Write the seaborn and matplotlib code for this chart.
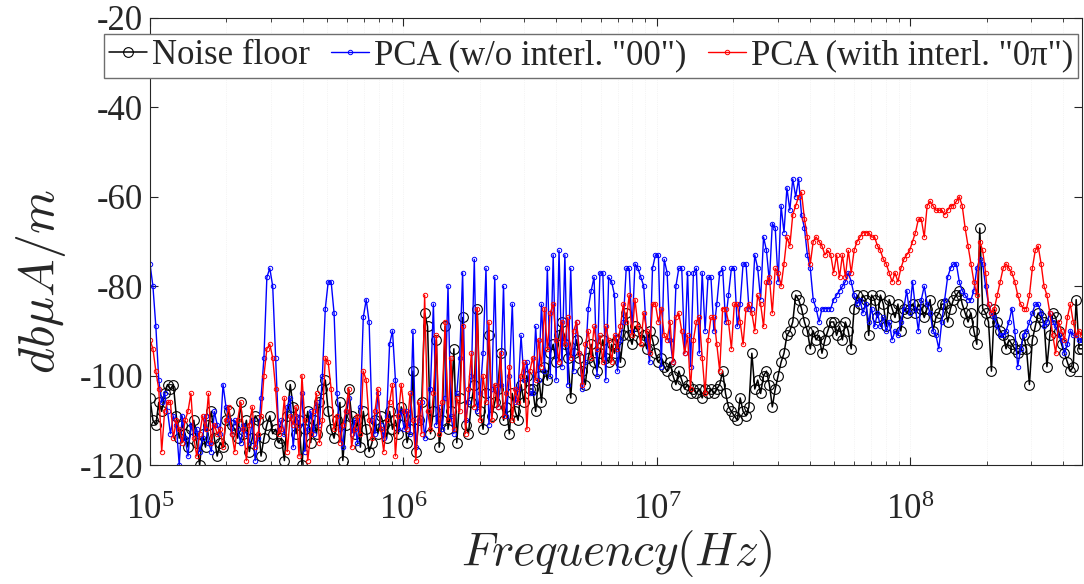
import numpy as np
import pandas as pd
import matplotlib
matplotlib.use("Agg")
import matplotlib.pyplot as plt
import seaborn as sns
from matplotlib.ticker import LogLocator, LogFormatterSciNotation, NullFormatter

# Receiver sweep: logarithmic frequency steps between start and stop
SWEEP_START_HZ = 1e5
SWEEP_STOP_HZ = 4.75e8

# Measured field levels in dBuA/m, one value per sweep step
noise_floor_db = [
    -105, -110, -111, -106, -108, -104, -102, -103, -102, -109,
    -114, -111, -113, -116, -112, -110, -115, -120, -113, -116,
    -111, -108, -114, -118, -115, -116, -110, -108, -111, -112,
    -114, -106, -113, -110, -117, -114, -109, -110, -118, -114,
    -111, -109, -113, -112, -115,
    -114, -119, -109, -102, -107, -113, -110, -120, -112, -108,
    -115, -110, -113, -106, -103, -101, -108, -112, -114, -110,
    -106, -119, -111, -103, -109, -113, -110, -116, -108, -112,
    -117, -115, -110, -113, -109, -111, -114, -108, -112, -110,
    -113, -107,
    -109, -115, -112, -99, -117, -110, -106, -86, -89, -113,
    -108, -92, -116, -110, -89, -112, -108, -94, -115, -105,
    -87, -111, -113, -106, -102, -85, -108, -112, -104, -91,
    -109, -106, -103, -95, -110, -107, -113, -104, -108, -110,
    -102, -106, -100, -103,
    -103, -108, -100, -106, -98, -101, -95, -93, -97, -91,
    -88, -93, -96, -105, -95, -92, -96, -99, -102, -96,
    -93, -97, -99, -95, -92, -96, -97, -93, -95, -92,
    -97, -91, -86, -91, -93, -89, -90, -92, -91, -94,
    -90, -92, -95, -97, -96, -98, -99, -97, -100, -102,
    -99, -101, -103, -102, -104, -103, -104, -103, -105, -103,
    -104, -103, -104, -103, -102, -99, -104, -107, -108, -109,
    -110, -105, -108, -109, -107, -95, -103, -101, -104, -100,
    -99, -102, -107, -103, -100, -97, -95, -91, -90, -88,
    -82, -83, -85, -88, -90, -94, -90, -92, -91, -95,
    -92, -90, -88, -88, -91, -89, -92, -88, -90, -94,
    -85, -82, -84, -82, -83, -91, -82, -83, -87, -82,
    -84, -89, -83, -85, -87, -84, -90, -85, -86, -85,
    -84, -86, -84, -85, -87, -85, -83, -90, -87, -86,
    -84, -84, -88, -85, -83, -82, -81, -84, -86, -88,
    -86, -90, -93, -67, -85, -86, -88, -99, -85, -88,
    -90, -91, -94, -92, -93, -94, -95, -94, -91, -94,
    -102, -92, -89, -86, -87, -88, -98, -91, -86, -87,
    -90, -93, -95, -97, -99, -98, -83, -94, -94,
]

pca_00_db = [
    -75, -80, -89, -101, -106, -104, -108, -113, -109, -111,
    -120, -109, -114, -118, -111, -113, -112, -117, -114, -109,
    -115, -117, -108, -111, -113, -102, -107, -110, -113, -110,
    -112, -115, -111, -113, -115, -110, -119, -114, -105, -96,
    -78, -76, -80, -96, -112,
    -110, -113, -107, -105, -116, -109, -111, -104, -117, -112,
    -108, -113, -106, -111, -100, -85, -79, -79, -86, -104,
    -112, -116, -108, -105, -113, -110, -115, -107, -87, -83,
    -88, -110, -113, -104, -111, -114, -109, -93, -90, -101,
    -112, -108,
    -112, -108, -113, -90, -116, -110, -106, -114, -108, -103,
    -84, -111, -107, -112, -105, -80, -109, -113, -104, -96,
    -77, -110, -106, -100, -74, -108, -104, -95, -76, -111,
    -103, -78, -107, -102, -80, -109, -100, -84, -106, -103,
    -91, -101, -97, -104,
    -104, -89, -101, -84, -99, -76, -100, -73, -101, -72,
    -98, -73, -102, -76, -99, -88, -95, -103, -97, -85,
    -81, -78, -100, -77, -77, -101, -78, -79, -82, -99,
    -92, -88, -76, -76, -90, -75, -76, -78, -80, -92,
    -97, -76, -73, -73, -98, -74, -77, -92, -97, -80,
    -76, -76, -95, -77, -98, -77, -76, -95, -77, -90,
    -78, -78, -90, -84, -77, -76, -88, -82, -76, -76,
    -89, -84, -75, -75, -85, -85, -73, -76, -83, -69,
    -72, -79, -66, -67, -79, -62, -68, -58, -63, -56,
    -60, -56, -64, -67, -73, -76, -83, -85, -88, -85,
    -85, -85, -85, -83, -82, -81, -80, -79, -77, -79,
    -82, -84, -83, -86, -84, -88, -85, -89, -86, -89,
    -87, -90, -88, -92, -90, -91, -88, -85, -81, -86,
    -79, -85, -90, -83, -80, -84, -86, -90, -91, -94,
    -88, -83, -78, -76, -75, -75, -79, -81, -82, -83,
    -83, -81, -76, -74, -75, -80, -84, -86, -87, -89,
    -91, -91, -90, -88, -85, -90, -98, -94, -91, -90,
    -88, -86, -84, -84, -86, -89, -88, -86, -88, -89,
    -91, -92, -95, -93, -90, -91, -91, -92, -92,
]

pca_0pi_db = [
    -92, -94, -99, -103, -117, -108, -106, -106, -114, -110,
    -112, -115, -110, -108, -104, -114, -118, -113, -109, -112,
    -104, -115, -111, -113, -112, -116, -110, -107, -113, -117,
    -110, -106, -112, -119, -111, -107, -116, -113, -109, -100,
    -94, -93, -96, -103, -113,
    -112, -105, -117, -109, -111, -107, -118, -100, -110, -119,
    -113, -108, -104, -115, -110, -96, -97, -103, -112, -109,
    -115, -111, -108, -103, -116, -112, -109, -113, -99, -101,
    -110, -114, -108, -103, -112, -117, -110, -106, -102, -118,
    -109, -102,
    -108, -112, -104, -110, -119, -106, -113, -82, -108, -112,
    -104, -91, -113, -106, -88, -110, -96, -112, -105, -108,
    -89, -113, -103, -95, -107, -85, -110, -100, -106, -88,
    -110, -102, -107, -95, -109, -104, -98, -110, -103, -106,
    -100, -97, -112, -99,
    -96, -101, -92, -98, -85, -94, -86, -84, -92, -97,
    -88, -93, -87, -96, -90, -88, -95, -102, -93, -90,
    -96, -89, -94, -91, -97, -89, -92, -97, -91, -94,
    -89, -84, -88, -82, -91, -83, -89, -93, -86, -90,
    -95, -84, -84, -88, -85, -91, -92, -88, -97, -87,
    -86, -90, -95, -91, -103, -92, -88, -87, -96, -104,
    -92, -87, -87, -93, -99, -85, -85, -88, -94, -84,
    -84, -88, -93, -85, -84, -86, -90, -82, -84, -89,
    -79, -78, -86, -76, -77, -80, -75, -69, -71, -64,
    -62, -60, -59, -65, -69, -75, -70, -69, -70, -71,
    -73, -72, -73, -77, -73, -78, -73, -78, -72, -77,
    -72, -70, -69, -68, -68, -68, -69, -69, -71, -72,
    -74, -75, -77, -79, -77, -79, -76, -74, -73, -72,
    -70, -68, -65, -65, -69, -62, -61, -62, -63, -63,
    -63, -64, -63, -62, -62, -61, -60, -62, -67, -71,
    -75, -79, -82, -70, -72, -77, -84, -86, -85, -82,
    -79, -76, -75, -76, -77, -79, -82, -84, -85, -85,
    -82, -76, -72, -71, -75, -80, -82, -86, -91, -95,
    -88, -90, -92, -87, -84, -88, -91, -90, -91,
]

series_labels = ["Noise floor", 'PCA (w/o interl. "00")', 'PCA (with interl. "0\u03c0")']
y_ticks = [-120, -100, -80, -60, -40, -20]

sns.set_theme(style="ticks")
plt.rcParams.update({
    "font.family": ["Liberation Serif", "DejaVu Serif"],
    "mathtext.fontset": "cm",
    "axes.unicode_minus": False,
    "axes.edgecolor": "#262626",
    "axes.linewidth": 0.8,
    "xtick.color": "#262626",
    "ytick.color": "#262626",
    "xtick.direction": "in",
    "ytick.direction": "in",
    "xtick.top": True,
    "ytick.right": True,
})

freq_hz = np.geomspace(SWEEP_START_HZ, SWEEP_STOP_HZ, len(noise_floor_db))
df = pd.DataFrame({
    "freq": freq_hz,
    "noise": noise_floor_db,
    "pca00": pca_00_db,
    "pca0pi": pca_0pi_db,
})

W, H = 1084, 584
fig = plt.figure(figsize=(W / 100, H / 100), dpi=100)
ax = fig.add_axes([150 / W, 119 / H, 932 / W, 447 / H])

line_specs = [
    ("noise", series_labels[0], "#000000", 7.0, 0.8, 1.1),
    ("pca00", series_labels[1], "#0000ff", 3.2, 0.7, 1.0),
    ("pca0pi", series_labels[2], "#ff0000", 3.2, 0.7, 1.0),
]
for col, label, color, ms, mew, lw in line_specs:
    sns.lineplot(
        data=df, x="freq", y=col, ax=ax, label=label, color=color,
        estimator=None, sort=False, linewidth=lw,
        marker="o", markersize=ms, markerfacecolor="none",
        markeredgecolor=color, markeredgewidth=mew,
    )

ax.set_xscale("log")
ax.set_xlim(SWEEP_START_HZ, SWEEP_STOP_HZ)
ax.set_ylim(-120, -20)
ax.set_yticks(y_ticks)
ax.xaxis.set_major_locator(LogLocator(base=10, numticks=10))
ax.xaxis.set_major_formatter(LogFormatterSciNotation())
ax.xaxis.set_minor_locator(LogLocator(base=10, subs=np.arange(2, 10), numticks=100))
ax.xaxis.set_minor_formatter(NullFormatter())

ax.tick_params(axis="both", which="major", labelsize=25, length=6, width=0.8)
ax.tick_params(axis="both", which="minor", length=3, width=0.6)
ax.tick_params(axis="x", which="major", pad=21)
ax.tick_params(axis="y", which="major", pad=5)

ax.grid(True, axis="x", which="both", linestyle=":", linewidth=0.5, color="#ebebeb")
ax.set_axisbelow(True)
for s in ax.spines.values():
    s.set_visible(True)
    s.set_color("#262626")
    s.set_linewidth(0.8)

ax.set_xlabel(r"$Frequency(Hz)$", fontsize=34)
ax.set_ylabel(r"$db\mu A/m$", fontsize=36)
ax.xaxis.set_label_coords(0.5, -0.14)
ax.yaxis.set_label_coords(-0.088, 0.41)

leg = ax.legend(
    loc="center", bbox_to_anchor=(591 / W, 1 - 56 / H), bbox_transform=fig.transFigure,
    ncol=3, fontsize=25, frameon=True, fancybox=False, framealpha=1,
    edgecolor="#6e6e6e", handlelength=1.1, handletextpad=0.15,
    columnspacing=0.6, borderpad=0.15, borderaxespad=0, numpoints=1,
)
leg.get_frame().set_linewidth(1.0)

fig.savefig("out.png", dpi=100)
